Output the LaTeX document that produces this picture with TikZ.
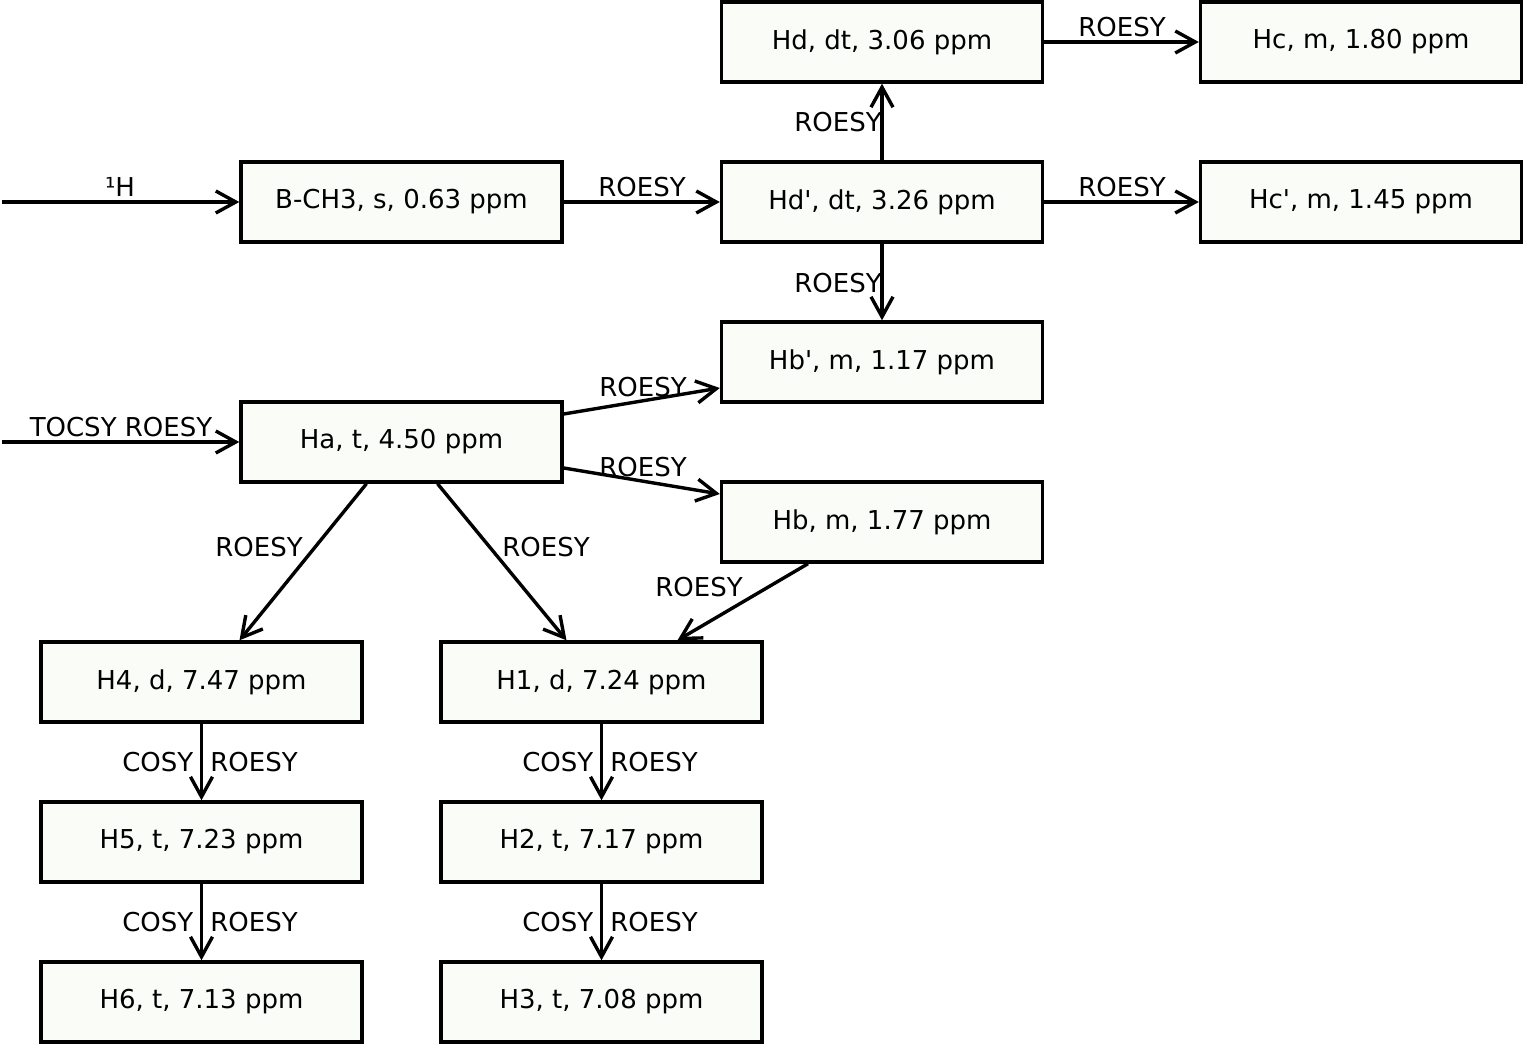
\documentclass[tikz,border=0pt]{standalone}
\usepackage{fontspec}
\setmainfont{DejaVu Sans}
\usetikzlibrary{arrows.meta}
\definecolor{boxfill}{RGB}{250,252,248}
\tikzset{
  nmr/.style={draw=black, fill=boxfill, line width=3.4pt, minimum width=321pt, minimum height=80pt, inner sep=0pt, font=\fontsize{26pt}{30pt}\selectfont},
  lbl/.style={anchor=base, inner sep=0pt, font=\fontsize{26pt}{30pt}\selectfont},
  conn/.style={line width=3.4pt, -{Straight Barb[length=20pt,width=22pt,line width=3.4pt]}},
}
\newcommand{\labgap}{\hspace{17pt}}
\begin{document}
\begin{tikzpicture}[x=1pt,y=-1pt]
\useasboundingbox (0,0) rectangle (1523,1044);
% boxes
\node[nmr] (Hd)  at (882,42)   {Hd, dt, 3.06 ppm};
\node[nmr] (Hc)  at (1361,42)  {Hc, m, 1.80 ppm};
\node[nmr] (BCH) at (401.5,202) {B-CH3, s, 0.63 ppm};
\node[nmr] (Hdp) at (882,202)  {Hd\textquotesingle, dt, 3.26 ppm};
\node[nmr] (Hcp) at (1361,202) {Hc\textquotesingle, m, 1.45 ppm};
\node[nmr] (Hbp) at (882,362)  {Hb\textquotesingle, m, 1.17 ppm};
\node[nmr] (Ha)  at (401.5,442) {Ha, t, 4.50 ppm};
\node[nmr] (Hb)  at (882,522)  {Hb, m, 1.77 ppm};
\node[nmr] (H4)  at (201.5,682) {H4, d, 7.47 ppm};
\node[nmr] (H1)  at (601.5,682) {H1, d, 7.24 ppm};
\node[nmr] (H5)  at (201.5,842) {H5, t, 7.23 ppm};
\node[nmr] (H2)  at (601.5,842) {H2, t, 7.17 ppm};
\node[nmr] (H6)  at (201.5,1002) {H6, t, 7.13 ppm};
\node[nmr] (H3)  at (601.5,1002) {H3, t, 7.08 ppm};
% free ends
\coordinate (in1) at (2,202);
\coordinate (in2) at (2,442);
% connectors
\draw[conn] (in1) -- (BCH.west);
\draw[conn] (in2) -- (Ha.west);
\draw[conn] (BCH.east) -- (Hdp.west);
\draw[conn] (Hdp.north) -- (Hd.south);
\draw[conn] (Hd.east) -- (Hc.west);
\draw[conn] (Hdp.east) -- (Hcp.west);
\draw[conn] (Hdp.south) -- (Hbp.north);
\draw[conn] ([yshift=28pt]Ha.east) -- ([yshift=-26pt]Hbp.west);
\draw[conn] ([yshift=-26pt]Ha.east) -- ([yshift=28pt]Hb.west);
\draw[conn] ([xshift=-35pt]Ha.south) -- ([xshift=38pt]H4.north);
\draw[conn] ([xshift=36pt]Ha.south) -- ([xshift=-35pt]H1.north);
\draw[conn] ([xshift=-74pt]Hb.south) -- ([xshift=76pt]H1.north);
\draw[conn] (H4) -- (H5);
\draw[conn] (H5) -- (H6);
\draw[conn] (H1) -- (H2);
\draw[conn] (H2) -- (H3);
% labels
\node[lbl] (l1)  at (120,196)  {¹H};
\node[lbl] (l2)  at (121,436)  {TOCSY ROESY};
\node[lbl] (l3)  at (642,196)  {ROESY};
\node[lbl] (l4)  at (838,131)  {ROESY};
\node[lbl] (l5)  at (1122,36)  {ROESY};
\node[lbl] (l6)  at (1122,196) {ROESY};
\node[lbl] (l7)  at (838,292)  {ROESY};
\node[lbl] (l8)  at (643,396)  {ROESY};
\node[lbl] (l9)  at (643,476)  {ROESY};
\node[lbl] (l10) at (699,596)  {ROESY};
\node[lbl] (l11) at (259,556)  {ROESY};
\node[lbl] (l12) at (546,556)  {ROESY};
\node[lbl] (l13) at (210,771)  {COSY\labgap ROESY};
\node[lbl] (l14) at (210,931)  {COSY\labgap ROESY};
\node[lbl] (l15) at (610,771)  {COSY\labgap ROESY};
\node[lbl] (l16) at (610,931)  {COSY\labgap ROESY};
\end{tikzpicture}
\end{document}
